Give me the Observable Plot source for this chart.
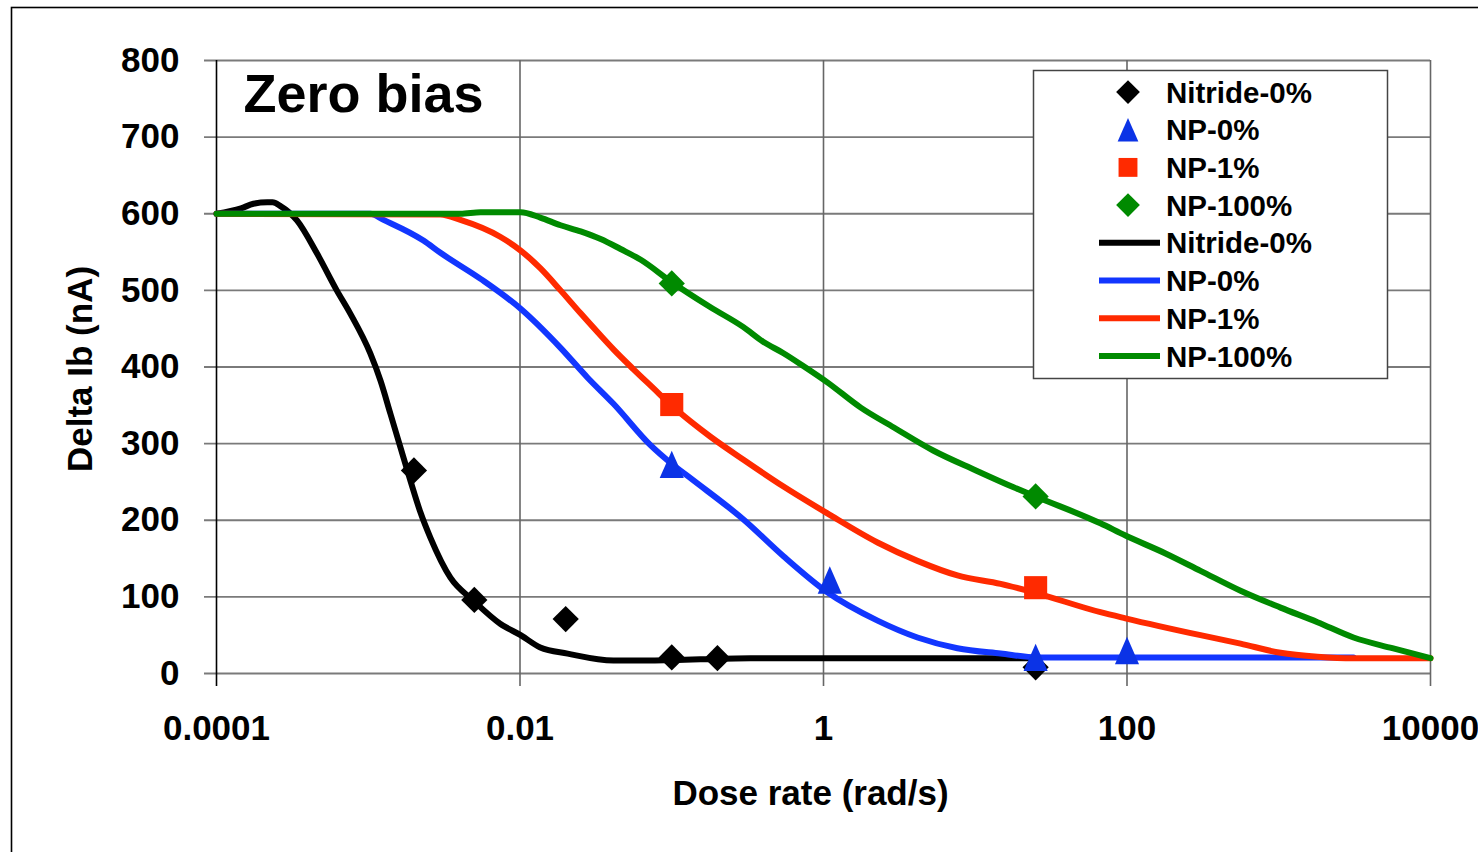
<!DOCTYPE html>
<html>
<head>
<meta charset="utf-8">
<script src="https://cdn.jsdelivr.net/npm/d3@7"></script>
<script src="https://cdn.jsdelivr.net/npm/@observablehq/plot@0.6"></script>
<style>
  html, body { margin: 0; padding: 0; background: white; }
  #chart svg { display: block; }
</style>
</head>
<body>
<div id="chart"></div>
<script>
// ---------- data ----------
const xTicks = [1e-4, 1e-2, 1, 100, 1e4];
const xTickLabels = ["0.0001", "0.01", "1", "100", "10000"];
const yTicks = [0, 100, 200, 300, 400, 500, 600, 700, 800];

const seriesNames = ["Nitride-0%", "NP-0%", "NP-1%", "NP-100%"];
const seriesColors = ["#000000", "#1236ff", "#ff2a00", "#008a00"];
const markerColors = ["#000000", "#0b33e6", "#ff2a00", "#008a00"];

// measured points (markers)
const nitridePtsX = [0.002, 0.005, 0.02, 0.1, 0.2, 25];
const nitridePtsY = [265, 96, 71, 21, 20, 8];
const np0PtsX = [0.1, 1.1, 25, 100];
const np0PtsY = [273, 122, 21, 30];
const np1PtsX = [0.1, 25];
const np1PtsY = [351, 112];
const np100PtsX = [0.1, 25];
const np100PtsY = [509, 231];

// fitted curves
const nitrideCurveX = [1e-4, 1.45e-4, 1.75e-4, 2.16e-4, 2.34e-4, 2.64e-4, 3.4e-4, 4.6e-4, 6.2e-4, 7.6e-4, 1.03e-3, 1.205e-3, 1.40e-3, 1.63e-3, 1.90e-3, 2.21e-3, 2.57e-3, 3.48e-3, 4.94e-3, 7.4e-3, 0.0101, 0.0136, 0.0206, 0.0413, 0.0724, 0.33, 1, 10, 25];
const nitrideCurveY = [600, 607, 613, 615, 615, 610, 591, 548, 500, 470, 418, 382, 339, 295, 251, 210, 177, 125, 95, 65, 50, 34, 26, 17, 17, 20, 20, 20, 20];

const np0CurveX = [1e-4, 1.03e-3, 1.26e-3, 2.31e-3, 2.99e-3, 5.5e-3, 0.0101, 0.0185, 0.0279, 0.0413, 0.0724, 0.098, 0.139, 0.297, 0.545, 1.06, 2.27, 4.16, 7.63, 14.7, 25.7, 3110];
const np0CurveY = [600, 600, 592, 565, 549, 515, 476, 425, 386, 352, 298, 275, 252, 201, 153, 106, 69, 47, 33, 26, 21, 21];

const np1CurveX = [1e-4, 2.99e-3, 4.05e-3, 7.4e-3, 0.0101, 0.0136, 0.0185, 0.0251, 0.034, 0.0413, 0.056, 0.0759, 0.098, 0.133, 0.18, 0.297, 0.545, 1.06, 2.27, 4.16, 7.63, 14.7, 24.2, 66.8, 97.7, 305, 560, 1028, 1800, 3110, 10000];
const np1CurveY = [600, 599, 592, 570, 552, 529, 500, 470, 441, 423, 397, 372, 351, 329, 309, 279, 244, 209, 171, 147, 128, 117, 106, 80, 72, 50, 39, 27, 22, 20, 20];

const np100CurveX = [1e-4, 4.05e-3, 5.5e-3, 0.0101, 0.0136, 0.0185, 0.0251, 0.034, 0.046, 0.0625, 0.098, 0.18, 0.297, 0.40, 0.545, 0.74, 1.06, 1.76, 2.91, 5.28, 10.1, 17.9, 25.7, 66.8, 97.7, 178, 305, 560, 1028, 1800, 3110, 5600, 10000];
const np100CurveY = [600, 600, 602, 602, 595, 585, 577, 567, 554, 540, 512, 478, 452, 433, 418, 401, 380, 347, 321, 291, 265, 243, 230, 196, 180, 157, 134, 108, 86, 67, 47, 33, 20];

// ---------- tables ----------
const curves = [
  [nitrideCurveX, nitrideCurveY],
  [np0CurveX, np0CurveY],
  [np1CurveX, np1CurveY],
  [np100CurveX, np100CurveY]
].flatMap(([xs, ys], s) => xs.map((x, i) => ({series: seriesNames[s], x, y: ys[i]})));

const pts = (xs, ys, s) => xs.map((x, i) => ({series: seriesNames[s], x, y: ys[i]}));
const nitridePts = pts(nitridePtsX, nitridePtsY, 0);
const np0Pts = pts(np0PtsX, np0PtsY, 1);
const np1Pts = pts(np1PtsX, np1PtsY, 2);
const np100Pts = pts(np100PtsX, np100PtsY, 3);

// ---------- symbols ----------
const diamondSym = {draw(ctx, size) { const r = Math.sqrt(size / Math.PI) * 1.25;
  ctx.moveTo(0, -r); ctx.lineTo(r, 0); ctx.lineTo(0, r); ctx.lineTo(-r, 0); ctx.closePath(); }};
const triSym = {draw(ctx, size) { const r = Math.sqrt(size / Math.PI);
  ctx.moveTo(0, -1.3 * r); ctx.lineTo(1.15 * r, 1.3 * r); ctx.lineTo(-1.15 * r, 1.3 * r); ctx.closePath(); }};
const squareSym = {draw(ctx, size) { const r = Math.sqrt(size / Math.PI) * 1.05;
  ctx.rect(-r, -r, 2 * r, 2 * r); }};

const FONT = "'Liberation Sans', Arial, Helvetica, sans-serif";

const chart = Plot.plot({
  width: 1478,
  height: 852,
  marginLeft: 216,
  marginRight: 48,
  marginTop: 60,
  marginBottom: 179,
  style: {fontFamily: FONT, fontWeight: "bold", fontSize: "35px", background: "white", color: "black"},
  x: {type: "log", domain: [1e-4, 1e4]},
  y: {domain: [0, 800]},
  color: {domain: seriesNames, range: seriesColors},
  marks: [
    Plot.ruleY(yTicks, {stroke: "#7a7a7a", strokeWidth: 1.8, insetLeft: -12}),
    Plot.ruleX(xTicks.slice(1), {stroke: "#666", strokeWidth: 1.6, insetBottom: -13}),
    Plot.ruleX([xTicks[0]], {stroke: "#000", strokeWidth: 1.6, insetBottom: -13}),
    Plot.axisX({ticks: xTicks, tickFormat: d => xTickLabels[xTicks.indexOf(d)], tickSize: 0, tickPadding: 42, label: null, fontSize: 35, fontWeight: "bold"}),
    Plot.axisY({ticks: yTicks, tickFormat: d => String(d), tickSize: 0, tickPadding: 37, label: null, fontSize: 35, fontWeight: "bold"}),
    Plot.line(curves, {x: "x", y: "y", z: "series", stroke: "series", strokeWidth: 6, curve: "monotone-x"}),
    Plot.dot(nitridePts, {x: "x", y: "y", symbol: diamondSym, r: 10.5, fill: markerColors[0], stroke: "none"}),
    Plot.dot(np0Pts, {x: "x", y: "y", symbol: triSym, r: 10.5, fill: markerColors[1], stroke: "none"}),
    Plot.dot(np1Pts, {x: "x", y: "y", symbol: squareSym, r: 11, fill: markerColors[2], stroke: "none"}),
    Plot.dot(np100Pts, {x: "x", y: "y", symbol: diamondSym, r: 10.5, fill: markerColors[3], stroke: "none"}),
    Plot.text(["Zero bias"], {frameAnchor: "top-left", dx: 27, dy: 13, lineAnchor: "top", textAnchor: "start", fontSize: 54, fontWeight: "bold"}),
    Plot.text(["Dose rate (rad/s)"], {frameAnchor: "bottom", dx: -13, dy: 120, lineAnchor: "middle", textAnchor: "middle", fontSize: 35, fontWeight: "bold"}),
    Plot.text(["Delta Ib (nA)"], {frameAnchor: "left", dx: -136, dy: 2, rotate: -90, lineAnchor: "middle", textAnchor: "middle", fontSize: 35, fontWeight: "bold"})
  ]
});

document.getElementById("chart").appendChild(chart);

// ---------- outer frame & legend ----------
const svg = d3.select(chart);
svg.append("rect").attr("x", 11.5).attr("y", 7.5).attr("width", 1500).attr("height", 900)
  .attr("fill", "none").attr("stroke", "#000").attr("stroke-width", 1.6);

const lg = svg.append("g").attr("font-family", FONT).attr("font-weight", "bold").attr("font-size", 29.5)
  .attr("text-anchor", "start");
lg.append("rect").attr("x", 1033.5).attr("y", 70.5).attr("width", 354).attr("height", 308)
  .attr("fill", "white").attr("stroke", "#444").attr("stroke-width", 1.5);
const rowY = i => 92 + i * 37.7;
const legendSyms = [diamondSym, triSym, squareSym, diamondSym];
const legendR = [9.5, 9, 9, 9.5];
seriesNames.forEach((name, i) => {
  lg.append("path")
    .attr("d", d3.symbol(legendSyms[i], Math.PI * legendR[i] * legendR[i])())
    .attr("transform", `translate(1128,${rowY(i)})`)
    .attr("fill", markerColors[i]);
  lg.append("text").attr("x", 1166).attr("y", rowY(i)).attr("dy", "0.36em").attr("text-anchor", "start").text(name);
});
seriesNames.forEach((name, j) => {
  const i = j + 4;
  lg.append("line").attr("x1", 1099).attr("x2", 1160).attr("y1", rowY(i)).attr("y2", rowY(i))
    .attr("stroke", seriesColors[j]).attr("stroke-width", 6);
  lg.append("text").attr("x", 1166).attr("y", rowY(i)).attr("dy", "0.36em").attr("text-anchor", "start").text(name);
});
</script>
</body>
</html>
